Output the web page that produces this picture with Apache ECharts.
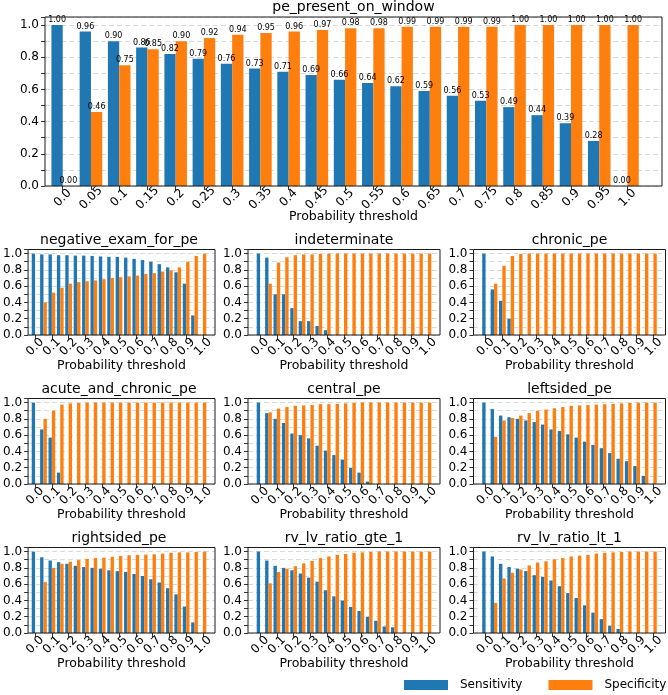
<!DOCTYPE html>
<html><head><meta charset="utf-8">
<script src="https://cdn.jsdelivr.net/npm/echarts@6/dist/echarts.min.js"></script>
<style>html,body{margin:0;padding:0;background:#fff}#c{width:668px;height:695px}</style>
</head><body><div id="c"></div>
<script>
// ---- data ----
const thresholds = ['0.0','0.05','0.1','0.15','0.2','0.25','0.3','0.35','0.4','0.45','0.5','0.55','0.6','0.65','0.7','0.75','0.8','0.85','0.9','0.95','1.0'];
const yTickLabels = ['0.0','0.2','0.4','0.6','0.8','1.0'];
const seriesNames = ['Sensitivity','Specificity'];

const presentSens = [1.00,0.96,0.90,0.86,0.82,0.79,0.76,0.73,0.71,0.69,0.66,0.64,0.62,0.59,0.56,0.53,0.49,0.44,0.39,0.28,0.00];
const presentSpec = [0.00,0.46,0.75,0.85,0.90,0.92,0.94,0.95,0.96,0.97,0.98,0.98,0.99,0.99,0.99,0.99,1.00,1.00,1.00,1.00,1.00];

const negSens = [1.00,0.99,0.99,0.98,0.98,0.975,0.975,0.97,0.965,0.96,0.96,0.95,0.935,0.92,0.90,0.87,0.83,0.77,0.63,0.24,0];
const negSpec = [0,0.40,0.52,0.58,0.63,0.65,0.66,0.67,0.685,0.70,0.71,0.72,0.73,0.75,0.76,0.78,0.795,0.83,0.90,0.97,1.00];

const indSens = [1.00,0.95,0.50,0.50,0.33,0.17,0.17,0.11,0.06,0,0,0,0,0,0,0,0,0,0,0,0];
const indSpec = [0,0.63,0.89,0.955,0.98,0.99,0.99,0.995,1,1,1,1,1,1,1,1,1,1,1,1,1];

const chrSens = [1.00,0.56,0.42,0.20,0,0,0,0,0,0,0,0,0,0,0,0,0,0,0,0,0];
const chrSpec = [0,0.63,0.85,0.97,0.995,1,1,1,1,1,1,1,1,1,1,1,1,1,1,1,1];

const acSens = [1.00,0.67,0.57,0.14,0,0,0,0,0,0,0,0,0,0,0,0,0,0,0,0,0];
const acSpec = [0,0.80,0.90,0.975,0.99,0.995,1,1,1,1,1,1,1,1,1,1,1,1,1,1,1];

const centralSens = [1.00,0.87,0.80,0.75,0.62,0.60,0.56,0.47,0.41,0.355,0.30,0.20,0.14,0.03,0,0,0,0,0,0,0];
const centralSpec = [0,0.88,0.925,0.945,0.96,0.965,0.97,0.98,0.98,0.985,0.99,0.995,1,1,1,1,1,1,1,1,1];

const leftSens = [1.00,0.92,0.84,0.82,0.80,0.78,0.76,0.73,0.67,0.65,0.61,0.57,0.52,0.48,0.44,0.38,0.31,0.28,0.22,0.10,0];
const leftSpec = [0,0.58,0.78,0.81,0.84,0.87,0.90,0.915,0.93,0.945,0.96,0.965,0.97,0.975,0.98,0.985,0.99,0.995,1,1,1];

const rightSens = [1.00,0.93,0.89,0.87,0.85,0.825,0.81,0.80,0.79,0.77,0.76,0.75,0.725,0.70,0.66,0.62,0.55,0.475,0.325,0.13,0];
const rightSpec = [0,0.625,0.80,0.85,0.875,0.895,0.91,0.92,0.925,0.935,0.945,0.955,0.96,0.963,0.967,0.975,0.985,0.99,0.99,0.995,1.0];

const gteSens = [1.00,0.89,0.825,0.80,0.77,0.73,0.68,0.63,0.525,0.45,0.40,0.32,0.27,0.20,0.15,0.08,0.07,0,0,0,0];
const gteSpec = [0,0.61,0.75,0.79,0.82,0.855,0.885,0.92,0.94,0.96,0.97,0.985,0.99,0.995,1,1,1,1,1,1,1];

const ltSens = [1.00,0.94,0.85,0.81,0.79,0.76,0.71,0.69,0.645,0.575,0.49,0.43,0.34,0.25,0.17,0.09,0.05,0,0,0,0];
const ltSpec = [0,0.37,0.67,0.74,0.78,0.83,0.865,0.88,0.905,0.92,0.94,0.95,0.96,0.975,0.985,0.99,0.995,1,1,1,1];

// ---- layout ----
const FONT = 'DejaVu Sans';
const BLUE = '#1f77b4', ORANGE = '#ff7f0e';
const panels = [
  {title:'pe_present_on_window', sens:presentSens, spec:presentSpec, top:true},
  {title:'negative_exam_for_pe', sens:negSens, spec:negSpec},
  {title:'indeterminate', sens:indSens, spec:indSpec},
  {title:'chronic_pe', sens:chrSens, spec:chrSpec},
  {title:'acute_and_chronic_pe', sens:acSens, spec:acSpec},
  {title:'central_pe', sens:centralSens, spec:centralSpec},
  {title:'leftsided_pe', sens:leftSens, spec:leftSpec},
  {title:'rightsided_pe', sens:rightSens, spec:rightSpec},
  {title:'rv_lv_ratio_gte_1', sens:gteSens, spec:gteSpec},
  {title:'rv_lv_ratio_lt_1', sens:ltSens, spec:ltSpec}
];
const colLefts = [23, 248, 473.5];

const grid = [], xAxis = [], yAxis = [], series = [], title = [];
panels.forEach((p, i) => {
  let fl, ft, fw, fh, bl, bw;
  if (p.top) {
    fl = 45; ft = 17; fw = 617; fh = 169;
    bl = 48.6; bw = 593;
  } else {
    const r = Math.floor((i - 1) / 3), c = (i - 1) % 3;
    fl = colLefts[c]; fw = 192; ft = 249.5 + 149 * r; fh = 85.5;
    const s = fw / 22.88;
    bl = fl + 0.94 * s; bw = 21 * s;
  }
  const fi = grid.length;
  grid.push({left: fl, top: ft, width: fw, height: fh, show: true, borderColor: '#1a1a1a', borderWidth: 1, z: 3, containLabel: false});
  const bi = grid.length;
  grid.push({left: bl, top: ft, width: bw, height: fh, containLabel: false});

  xAxis.push({gridIndex: fi, type: 'value', min: 0, max: 1,
    axisLine: {show: false}, axisTick: {show: false}, axisLabel: {show: false}, splitLine: {show: false},
    name: 'Probability threshold', nameLocation: 'middle', nameGap: 24,
    nameTextStyle: {fontSize: 12.5, color: '#000', fontFamily: FONT}});
  yAxis.push({gridIndex: fi, type: 'value', min: 0, max: 1.05, interval: 0.1,
    axisLine: {show: false},
    axisTick: {show: true, length: 4, lineStyle: {color: '#000', width: 0.8}},
    axisLabel: {margin: 6, fontSize: 12, color: '#000', fontFamily: FONT,
      formatter: v => { const k = Math.round(v * 10); const t = (k / 10).toFixed(1); return (k % 2 === 0 && yTickLabels.indexOf(t) >= 0 && v < 1.01) ? t : ''; }},
    splitLine: {show: true, lineStyle: {color: '#d0d0d0', type: [5, 3], width: 0.8}}});

  const every = p.top ? 0 : 1;
  xAxis.push({gridIndex: bi, type: 'category', data: thresholds,
    axisLine: {show: false},
    axisTick: {show: true, alignWithLabel: true, interval: every, length: 4, lineStyle: {color: '#000', width: 0.8}},
    axisLabel: {interval: every, rotate: 45, align: 'center', verticalAlign: 'middle', margin: 12,
      fontSize: 12, color: '#000', fontFamily: FONT},
    splitLine: {show: false}});
  yAxis.push({gridIndex: bi, type: 'value', min: 0, max: 1.05, show: false});

  const lbl = p.top ? {show: true, position: 'top', distance: 1, fontSize: 8, color: '#000', fontFamily: FONT,
    formatter: d => d.value.toFixed(2)} : {show: false};
  [p.sens, p.spec].forEach((arr, k) => {
    series.push({type: 'bar', name: seriesNames[k], xAxisIndex: bi, yAxisIndex: bi, data: arr,
      itemStyle: {color: k === 0 ? BLUE : ORANGE}, barGap: '0%', barCategoryGap: '20%',
      label: lbl, emphasis: {disabled: true}});
  });

  title.push({text: p.title, left: fl + fw / 2, top: ft - 16.5, textAlign: 'center', padding: 0,
    textStyle: {fontSize: 14, fontWeight: 'normal', color: '#000', fontFamily: FONT}});
});

const chart = echarts.init(document.getElementById('c'), null, {renderer: 'canvas'});
chart.setOption({
  animation: false,
  backgroundColor: '#fff',
  title, grid, xAxis, yAxis, series,
  legend: {data: seriesNames, left: 404, top: 679, padding: 0, icon: 'rect', itemWidth: 44, itemHeight: 10, itemGap: 26,
    textStyle: {fontSize: 12, color: '#000', fontFamily: FONT, padding: [0, 0, 0, 7]}}
});
</script>
</body></html>
